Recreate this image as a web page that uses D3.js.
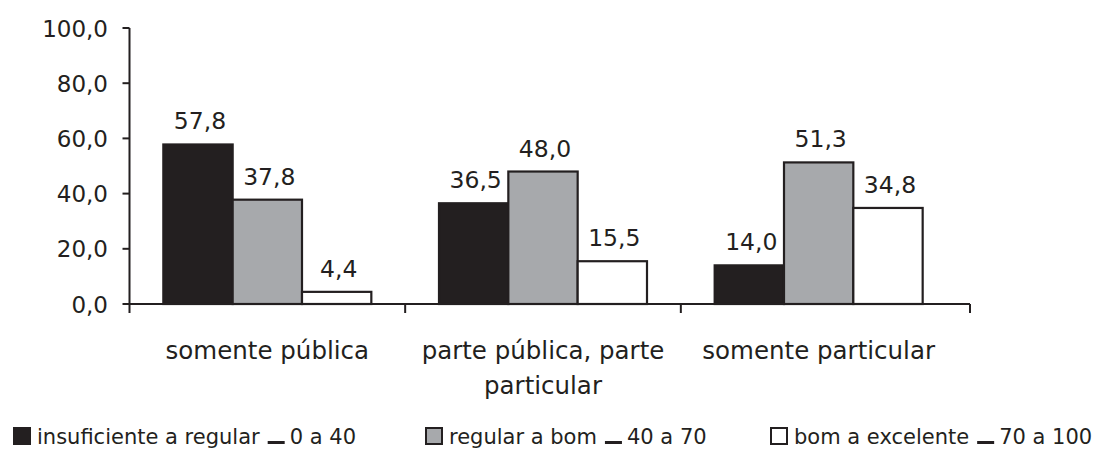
<!DOCTYPE html>
<html>
<head>
<meta charset="utf-8">
<script src="https://cdn.jsdelivr.net/npm/d3@7"></script>
<style>
  html, body { margin: 0; padding: 0; background: #fff; }
  svg { display: block; font-family: "DejaVu Sans", sans-serif; }
</style>
</head>
<body>
<svg id="chart" width="1093" height="449"></svg>
<script>
// Categories (school type) and the three score bands
const categories = [["somente pública"], ["parte pública, parte", "particular"], ["somente particular"]];
const seriesNames = ["insuficiente a regular", "regular a bom", "bom a excelente"];
const seriesRanges = ["0 a 40", "40 a 70", "70 a 100"];
const insuficiente = [57.8, 36.5, 14.0];
const regular = [37.8, 48.0, 51.3];
const bom = [4.4, 15.5, 34.8];
const yTicks = [0, 20, 40, 60, 80, 100];

const fills = ["#231f20", "#a7a9ac", "#ffffff"];
const ink = "#231f20";
const fmt = v => d3.format(".1f")(v).replace(".", ",");

const svg = d3.select("#chart");
const series = [insuficiente, regular, bom];

const x0 = 129.5, x1 = 956.5, axisEnd = 970;
const y = d3.scaleLinear().domain([0, 100]).range([304, 28]);
const x = d3.scaleBand().domain(d3.range(categories.length)).range([x0, x1]).paddingInner(0).paddingOuter(0);
const groupWidth = 208;
const xs = d3.scaleBand().domain(d3.range(series.length)).range([0, groupWidth]);

// bars with value labels
const bars = svg.append("g");
categories.forEach((c, i) => {
  const gx = x(i) + (x.bandwidth() - groupWidth) / 2;
  series.forEach((s, j) => {
    const v = s[i];
    bars.append("rect")
      .attr("x", gx + xs(j))
      .attr("y", y(v))
      .attr("width", xs.bandwidth())
      .attr("height", y(0) - y(v))
      .attr("fill", fills[j])
      .attr("stroke", ink)
      .attr("stroke-width", 2.2);
    bars.append("text")
      .attr("x", gx + xs(j) + xs.bandwidth() / 2 + 2)
      .attr("y", y(v) - 15)
      .attr("text-anchor", "middle")
      .attr("font-size", 23.5)
      .attr("fill", ink)
      .text(fmt(v));
  });
});

// y axis
const ya = svg.append("g");
ya.append("line").attr("x1", x0).attr("x2", x0).attr("y1", y(100)).attr("y2", y(0) + 9)
  .attr("stroke", ink).attr("stroke-width", 2);
yTicks.forEach(t => {
  ya.append("line").attr("x1", x0 - 7).attr("x2", x0).attr("y1", y(t)).attr("y2", y(t))
    .attr("stroke", ink).attr("stroke-width", 2);
  ya.append("text").attr("x", 108).attr("y", y(t) + 8.5).attr("text-anchor", "end")
    .attr("font-size", 23).attr("fill", ink).text(fmt(t));
});

// x axis
const xa = svg.append("g");
xa.append("line").attr("x1", x0).attr("x2", axisEnd).attr("y1", y(0)).attr("y2", y(0))
  .attr("stroke", ink).attr("stroke-width", 2);
const tickXs = d3.range(1, categories.length).map(i => x(i)).concat([axisEnd]);
tickXs.forEach(tx => {
  xa.append("line").attr("x1", tx).attr("x2", tx).attr("y1", y(0)).attr("y2", y(0) + 9)
    .attr("stroke", ink).attr("stroke-width", 2);
});
categories.forEach((lines, i) => {
  lines.forEach((ln, k) => {
    xa.append("text").attr("x", x(i) + x.bandwidth() / 2).attr("y", 359 + k * 35)
      .attr("text-anchor", "middle").attr("font-size", 24.5).attr("fill", ink).text(ln);
  });
});

// legend
const legendX = [13, 425, 770];
const lg = svg.append("g");
seriesNames.forEach((name, j) => {
  const lx = legendX[j];
  lg.append("rect").attr("x", lx + 1).attr("y", 428).attr("width", 16).attr("height", 16)
    .attr("fill", fills[j]).attr("stroke", ink).attr("stroke-width", 2);
  const t1 = lg.append("text").attr("x", lx + 24).attr("y", 444).attr("font-size", 21)
    .attr("fill", ink).text(name);
  const w1 = t1.node().getComputedTextLength();
  const dx = lx + 24 + w1 + 8;
  lg.append("rect").attr("x", dx).attr("y", 441).attr("width", 17).attr("height", 3).attr("fill", ink);
  lg.append("text").attr("x", dx + 22).attr("y", 444).attr("font-size", 21)
    .attr("fill", ink).text(seriesRanges[j]);
});
</script>
</body>
</html>
